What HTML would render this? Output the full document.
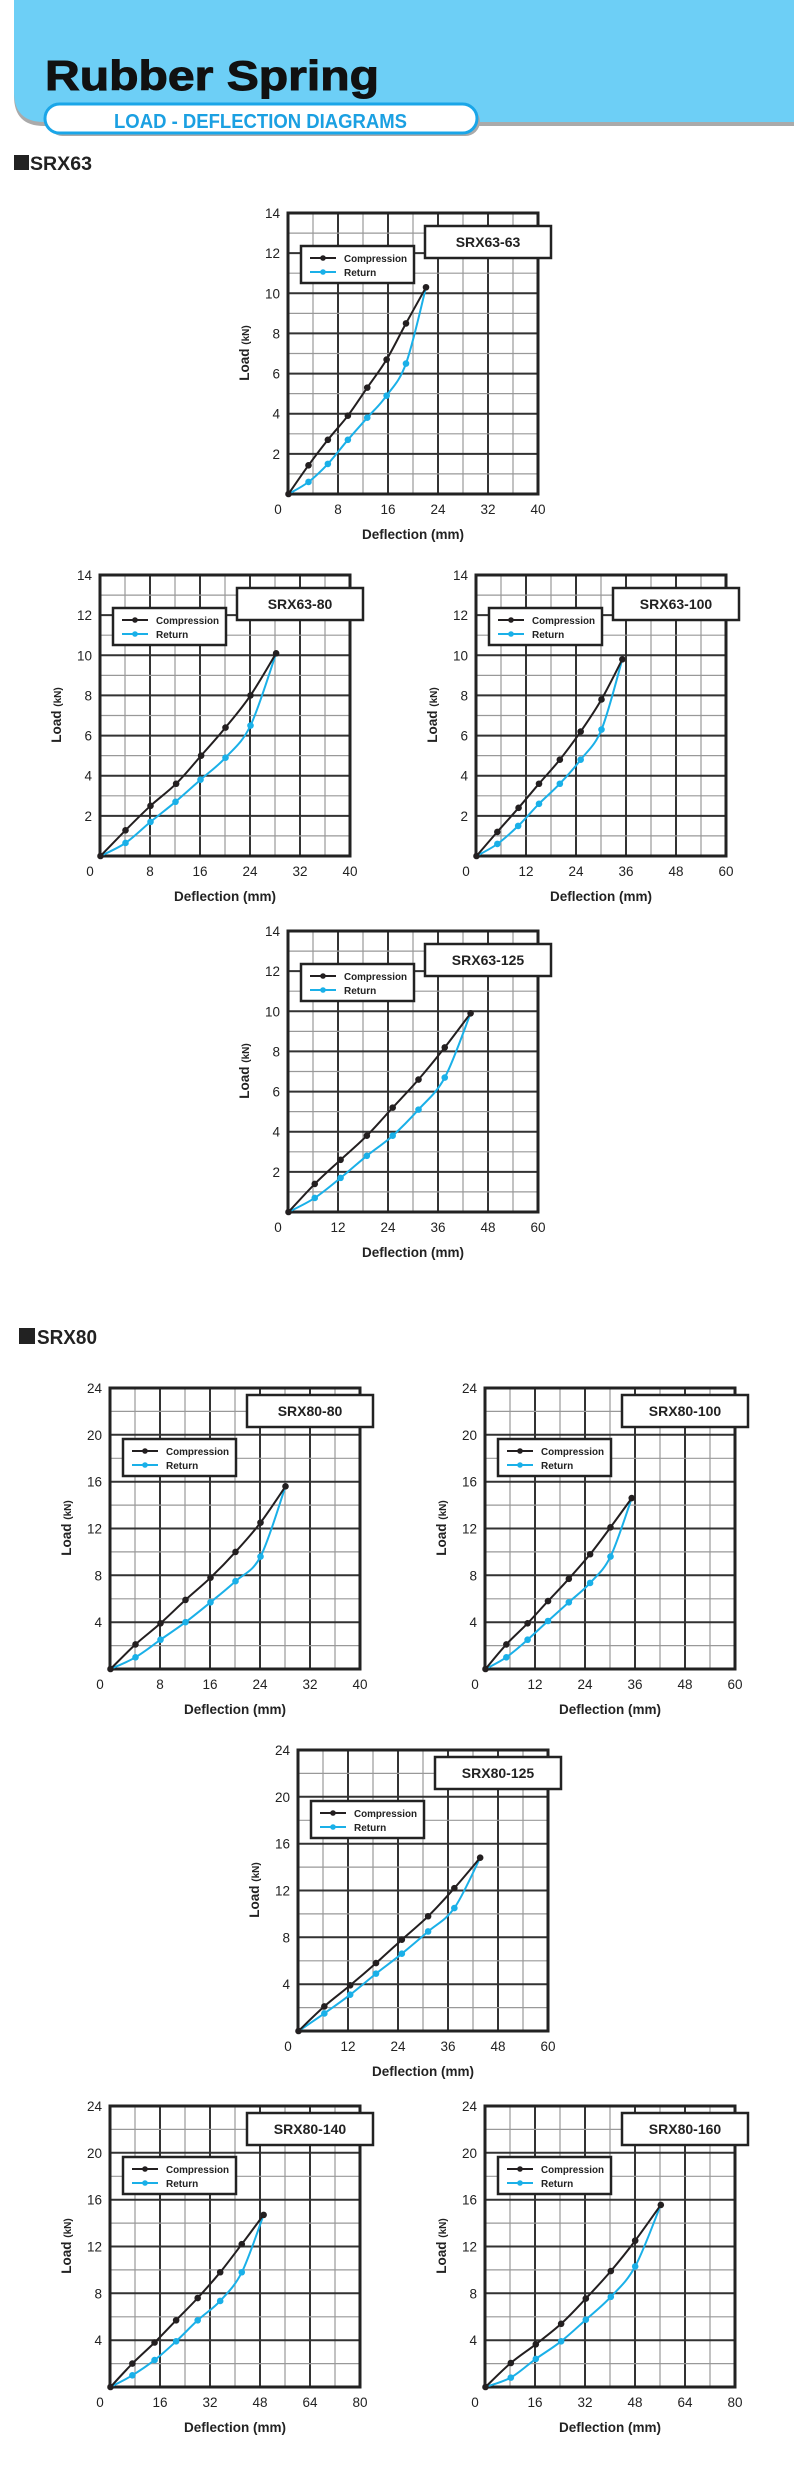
<!DOCTYPE html>
<html><head><meta charset="utf-8"><style>
html,body{margin:0;padding:0;background:#fff;}
body{width:794px;height:2476px;position:relative;overflow:hidden;font-family:"Liberation Sans",sans-serif;}
.ch{position:absolute;width:350px;height:360px;}
svg text{font-family:"Liberation Sans",sans-serif;}
</style></head><body>
<svg style="position:absolute;left:0;top:0" width="794" height="200">
<path d="M14 0 H794 V126 H44 Q14 126 14 96 Z" fill="#aaa"/>
<path d="M14 0 H794 V122 H44 Q14 122 14 92 Z" fill="#6dcff6"/>
<text x="45" y="90" font-size="42" font-weight="900" fill="#111" textLength="334" lengthAdjust="spacingAndGlyphs" stroke="#111" stroke-width="1">Rubber Spring</text>
<rect x="48" y="107" width="432" height="29" rx="14.5" fill="#aaa"/>
<rect x="45" y="104" width="432" height="29" rx="14.5" fill="#fff" stroke="#1aa6e8" stroke-width="3"/>
<text x="114" y="128" font-size="20" font-weight="bold" fill="#1ba0e2" textLength="293" lengthAdjust="spacingAndGlyphs">LOAD - DEFLECTION DIAGRAMS</text>
<rect x="14" y="155" width="15" height="15" fill="#222"/>
<text x="30" y="170" font-size="19" font-weight="bold" fill="#222" textLength="62" lengthAdjust="spacingAndGlyphs">SRX63</text>
</svg>
<svg style="position:absolute;left:0;top:1320px" width="200" height="30">
<rect x="19" y="8" width="16" height="16" fill="#222"/>
<text x="37" y="24" font-size="20" font-weight="bold" fill="#222" textLength="60" lengthAdjust="spacingAndGlyphs">SRX80</text>
</svg>
<div id="charts"></div>
<script>
var charts=[
{l:288,t:213,xm:40,ym:14,g:63,name:"SRX63-63",c:[[3.2,1.43],[6.3,2.7],[9.5,3.9],[12.6,5.3],[15.7,6.7],[18.8,8.5],[22,10.3]],r:[[3.2,0.6],[6.3,1.5],[9.5,2.7],[12.6,3.8],[15.7,4.9],[18.8,6.5],[22,10.3]]},
{l:100,t:575,xm:40,ym:14,g:63,name:"SRX63-80",c:[[4,1.28],[8,2.5],[12.1,3.6],[16.1,5],[20,6.4],[24,8],[28.1,10.1]],r:[[4,0.65],[8,1.7],[12,2.7],[16,3.8],[20,4.9],[24,6.5],[28.1,10.1]]},
{l:476,t:575,xm:60,ym:14,g:63,name:"SRX63-100",c:[[5,1.2],[10.1,2.4],[15,3.6],[20,4.8],[25,6.2],[30,7.8],[35,9.8]],r:[[5,0.6],[10,1.5],[15,2.6],[20,3.6],[25,4.8],[30,6.3],[35,9.8]]},
{l:288,t:931,xm:60,ym:14,g:63,name:"SRX63-125",c:[[6.3,1.4],[12.5,2.6],[18.8,3.8],[25,5.2],[31.2,6.6],[37.5,8.2],[43.7,9.9]],r:[[6.3,0.7],[12.5,1.7],[18.8,2.8],[25,3.8],[31.2,5.1],[37.5,6.7],[43.7,9.9]]},
{l:110,t:1388,xm:40,ym:24,g:80,name:"SRX80-80",c:[[4,2.1],[8,3.9],[12,5.9],[16,7.8],[20,10],[24,12.5],[28,15.6]],r:[[4,1],[8,2.5],[12,4],[16,5.7],[20,7.5],[24,9.6],[28,15.6]]},
{l:485,t:1388,xm:60,ym:24,g:80,name:"SRX80-100",c:[[5,2.1],[10.1,3.9],[15,5.8],[20,7.7],[25.1,9.8],[30,12.1],[35.1,14.6]],r:[[5,1],[10.1,2.5],[15,4.1],[20,5.7],[25.1,7.35],[30,9.6],[35.1,14.6]]},
{l:298,t:1750,xm:60,ym:24,g:80,name:"SRX80-125",c:[[6.2,2.1],[12.4,3.9],[18.6,5.8],[24.8,7.8],[31.1,9.8],[37.4,12.2],[43.6,14.8]],r:[[6.2,1.5],[12.4,3.1],[18.6,4.9],[24.8,6.6],[31.1,8.5],[37.4,10.5],[43.6,14.8]]},
{l:110,t:2106,xm:80,ym:24,g:80,name:"SRX80-140",c:[[7,2],[14.1,3.8],[21,5.7],[27.9,7.6],[35.1,9.8],[42,12.2],[49,14.7]],r:[[7,1],[14.1,2.3],[21,3.9],[27.9,5.7],[35.1,7.35],[42,9.8],[49,14.7]]},
{l:485,t:2106,xm:80,ym:24,g:80,name:"SRX80-160",c:[[8.1,2.05],[16.1,3.65],[24.2,5.4],[32.1,7.55],[40.1,9.9],[47.9,12.5],[56.1,15.55]],r:[[8.1,0.8],[16.1,2.4],[24.2,3.9],[32.1,5.75],[40.1,7.7],[47.9,10.3],[56.1,15.55]]}
];
var W=250,H=281;
function path(pts){var d="M"+pts[0][0]+" "+pts[0][1];for(var i=0;i<pts.length-1;i++){var p0=pts[i-1]||pts[i],p1=pts[i],p2=pts[i+1],p3=pts[i+2]||p2;var c1x=p1[0]+(p2[0]-p0[0])/6,c1y=p1[1]+(p2[1]-p0[1])/6,c2x=p2[0]-(p3[0]-p1[0])/6,c2y=p2[1]-(p3[1]-p1[1])/6;d+=" C"+c1x.toFixed(1)+" "+c1y.toFixed(1)+" "+c2x.toFixed(1)+" "+c2y.toFixed(1)+" "+p2[0].toFixed(1)+" "+p2[1].toFixed(1);}return d;}
var out="";
charts.forEach(function(ch){
 var rows=ch.ym===14?14:12, ystep=ch.ym===14?2:4;
 var s='<svg class="ch" style="left:'+(ch.l-70)+'px;top:'+(ch.t-20)+'px" viewBox="-70 -20 350 360" width="350" height="360">';
 for(var i=1;i<10;i++){var x=i*25;s+='<line x1="'+x+'" y1="0" x2="'+x+'" y2="'+H+'" stroke="'+(i%2?'#999':'#333')+'" stroke-width="'+(i%2?1.2:2)+'"/>';}
 for(var j=1;j<rows;j++){var y=(H*j/rows).toFixed(1);s+='<line x1="0" y1="'+y+'" x2="'+W+'" y2="'+y+'" stroke="'+(j%2?'#999':'#333')+'" stroke-width="'+(j%2?1.2:2)+'"/>';}
 s+='<rect x="0" y="0" width="'+W+'" height="'+H+'" fill="none" stroke="#222" stroke-width="3"/>';
 for(var v=ystep;v<=ch.ym;v+=ystep){var y=H-v*H/ch.ym;s+='<text x="-8" y="'+(y+5).toFixed(1)+'" font-size="13.5" fill="#222" text-anchor="end">'+v+'</text>';}
 for(var k=0;k<=5;k++){s+='<text x="'+(k===0?-10:k*50)+'" y="'+(H+20)+'" font-size="13.5" fill="#222" text-anchor="middle">'+(k*ch.xm/5)+'</text>';}
 s+='<text x="125" y="'+(H+45)+'" font-size="13.5" font-weight="bold" fill="#222" text-anchor="middle">Deflection (mm)</text>';
 s+='<text transform="translate(-39,140) rotate(-90)" font-size="13.5" font-weight="bold" fill="#222" text-anchor="middle">Load <tspan font-size="10">(kN)</tspan></text>';
 var ty=ch.g===63?13:7, ly=ch.g===63?33:51;
 s+='<rect x="137" y="'+ty+'" width="126" height="32" fill="#fff" stroke="#222" stroke-width="2.5"/>';
 s+='<text x="200" y="'+(ty+21)+'" font-size="14" font-weight="bold" fill="#222" text-anchor="middle">'+ch.name+'</text>';
 s+='<rect x="13" y="'+ly+'" width="113" height="37" fill="#fff" stroke="#222" stroke-width="2.5"/>';
 s+='<line x1="22" y1="'+(ly+12)+'" x2="48" y2="'+(ly+12)+'" stroke="#231f20" stroke-width="2"/><circle cx="35" cy="'+(ly+12)+'" r="2.8" fill="#231f20"/>';
 s+='<line x1="22" y1="'+(ly+26)+'" x2="48" y2="'+(ly+26)+'" stroke="#1ab0e8" stroke-width="2"/><circle cx="35" cy="'+(ly+26)+'" r="2.8" fill="#1ab0e8"/>';
 s+='<text x="56" y="'+(ly+16)+'" font-size="10" font-weight="bold" fill="#222" textLength="63" lengthAdjust="spacingAndGlyphs">Compression</text>';
 s+='<text x="56" y="'+(ly+30)+'" font-size="10" font-weight="bold" fill="#222">Return</text>';
 function P(a){return [0.5+a[0]*W/ch.xm, H-a[1]*H/ch.ym];}
 var c=[[0.5,H]].concat(ch.c.map(P)), r=[[0.5,H]].concat(ch.r.map(P));
 s+='<path d="'+path(r)+'" fill="none" stroke="#1ab0e8" stroke-width="2"/>';
 s+='<path d="'+path(c)+'" fill="none" stroke="#231f20" stroke-width="2"/>';
 r.slice(1,-1).forEach(function(p){s+='<circle cx="'+p[0]+'" cy="'+p[1]+'" r="3.3" fill="#1ab0e8"/>';});
 c.forEach(function(p){s+='<circle cx="'+p[0]+'" cy="'+p[1]+'" r="3.3" fill="#231f20"/>';});
 s+='</svg>';out+=s;
});
document.getElementById('charts').innerHTML=out;
</script>
</body></html>
